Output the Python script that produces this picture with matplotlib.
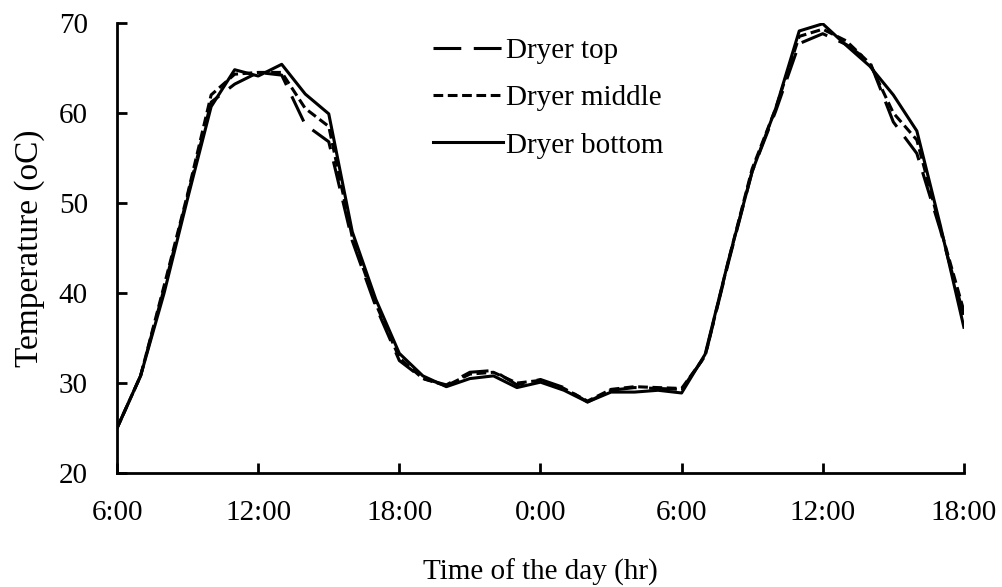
import matplotlib.pyplot as plt

# hours since 6:00 on day one, one reading per hour
hours = list(range(0, 37))

dryer_top = [25.0, 30.8, 40.5, 50.8, 61.2, 63.2, 64.5, 64.2, 58.7, 56.8,
             45.8, 38.5, 32.5, 30.5, 29.8, 31.2, 31.4, 29.8, 30.4, 29.5,
             27.9, 29.2, 29.5, 29.4, 29.3, 33.0, 43.5, 53.5, 60.2, 67.7,
             68.8, 67.6, 65.7, 59.0, 55.5, 47.0, 37.5]

dryer_middle = [25.0, 30.8, 40.8, 51.0, 62.0, 64.3, 64.5, 64.5, 60.5, 58.5,
                46.2, 38.8, 32.8, 30.5, 29.7, 31.0, 31.2, 30.0, 30.3, 29.4,
                28.0, 29.3, 29.6, 29.5, 29.4, 33.0, 43.7, 53.8, 60.5, 68.5,
                69.3, 68.0, 65.5, 60.0, 57.0, 47.2, 38.0]

dryer_bottom = [25.0, 30.8, 40.0, 50.5, 60.7, 64.8, 64.1, 65.4, 62.1, 59.9,
                46.8, 39.3, 33.3, 30.8, 29.6, 30.5, 30.8, 29.5, 30.1, 29.2,
                27.9, 29.0, 29.0, 29.2, 28.9, 33.2, 43.7, 53.5, 60.5, 69.1,
                69.9, 67.5, 65.2, 62.0, 58.0, 47.5, 36.2]

tick_hours = [0, 6, 12, 18, 24, 30, 36]
tick_labels = ['6:00', '12:00', '18:00', '0:00', '6:00', '12:00', '18:00']

plt.rcParams['font.family'] = ['Liberation Serif', 'DejaVu Serif']
plt.rcParams['lines.scale_dashes'] = False

fig = plt.figure(figsize=(10.03, 5.87), dpi=100)
ax = fig.add_axes([0.1167, 0.194, 0.8443, 0.767])

ax.plot(hours, dryer_top, color='black', lw=2.2, dashes=(20, 9),
        label='Dryer top')
ax.plot(hours, dryer_middle, color='black', lw=2.2, dashes=(7, 3.3),
        label='Dryer middle')
ax.plot(hours, dryer_bottom, color='black', lw=2.2, label='Dryer bottom')

ax.set_xlim(0, 36)
ax.set_ylim(20, 70)
ax.set_xticks(tick_hours)
ax.set_xticklabels(tick_labels)
ax.set_yticks([20, 30, 40, 50, 60, 70])

ax.spines['top'].set_visible(False)
ax.spines['right'].set_visible(False)
ax.spines['left'].set_linewidth(2)
ax.spines['bottom'].set_linewidth(2)
ax.tick_params(direction='in', length=7, width=2, labelsize=21)
ax.tick_params(axis='y', pad=21)
ax.tick_params(axis='x', pad=19)

ax.set_xlabel('Time of the day (hr)', fontsize=21, labelpad=24)
ax.set_ylabel('Temperature (oC)', fontsize=24, labelpad=10)

ax.legend(loc='upper left', bbox_to_anchor=(0.342, 1.026), frameon=False,
          fontsize=21, handlelength=2.4, handletextpad=0.1,
          labelspacing=0.72)

plt.savefig('out.png', dpi=100)
